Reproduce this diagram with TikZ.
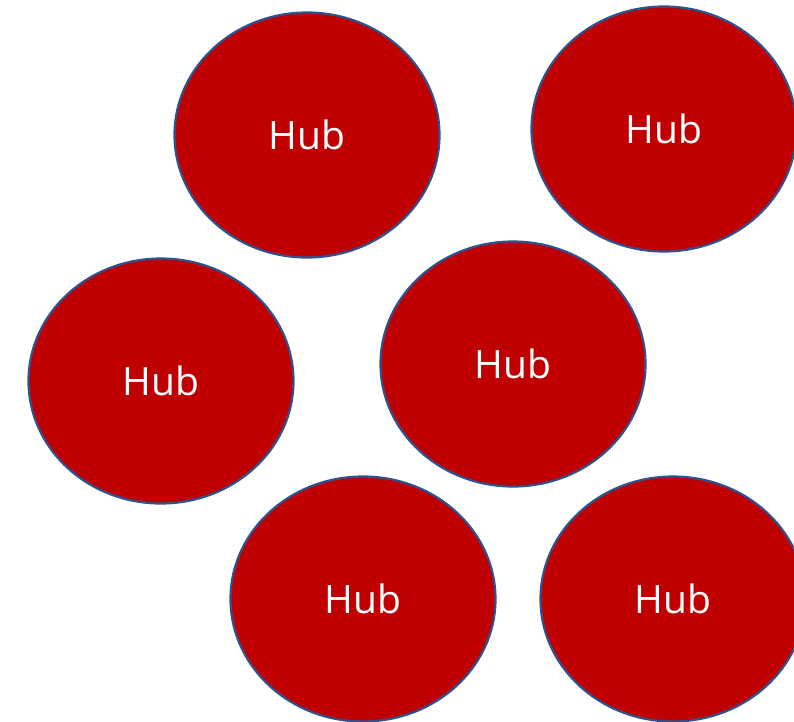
\documentclass[tikz,border=0pt]{standalone}
\usepackage{fontspec}
\setmainfont{Open Sans}
\usepackage{tikz}
\usetikzlibrary{shapes.geometric}
\definecolor{hubred}{HTML}{C00000}
\definecolor{hubline}{HTML}{2F528F}
\tikzset{hub/.style={ellipse,draw=hubline,fill=hubred,line width=2.2pt,
  minimum width=265pt,minimum height=245pt,inner sep=0pt,
  text=white,font=\fontsize{39}{44}\selectfont}}

\begin{document}
\begin{tikzpicture}[x=1pt,y=-1pt]
\useasboundingbox (0,0) rectangle (794,721);
\clip (0,0) rectangle (794,721);
\node[hub] (hubtop) at (307,135) {Hub};
\node[hub] (hubcorner) at (664,129) {Hub};
\node[hub] (hubleft) at (161,381) {Hub};
\node[hub] (hubmid) at (513,364) {Hub};
\node[hub] (hubbottom) at (363,599) {Hub};
\node[hub] (hubright) at (673,599) {Hub};
\end{tikzpicture}
\end{document}
